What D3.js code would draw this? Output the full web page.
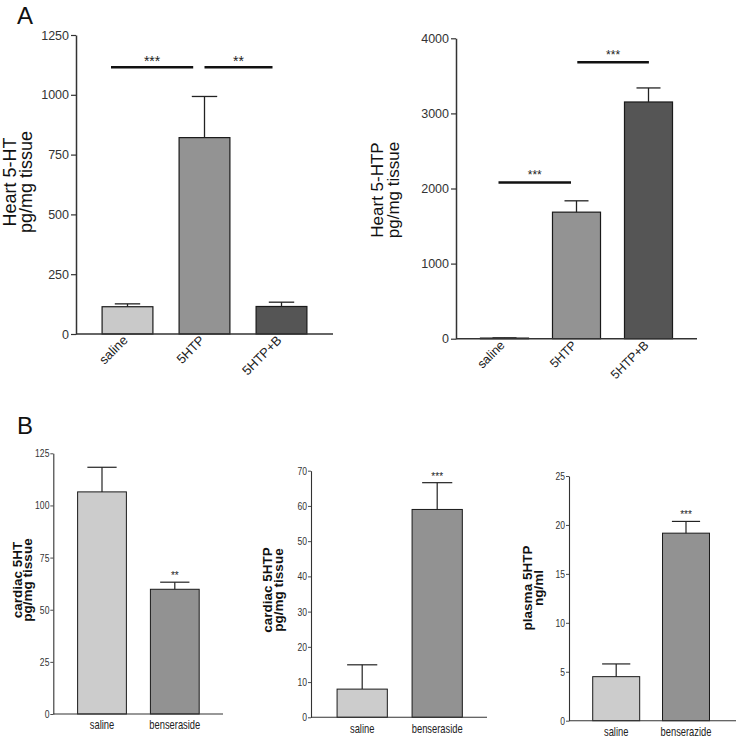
<!DOCTYPE html>
<html><head><meta charset="utf-8">
<script src="https://cdn.jsdelivr.net/npm/d3@7"></script>
<style>
body{margin:0;background:#fff;}
svg{display:block;}
</style></head>
<body>
<svg id="chart" width="736" height="740"></svg>
<script>
// ---------- DATA ----------
const catsA = ["saline", "5HTP", "5HTP+B"];
const heart5HT = [114, 821, 115];
const heart5HTErr = [12, 172, 18];
const ticks5HT = [0, 250, 500, 750, 1000, 1250];
const sig5HT = [{a: 0, b: 1, v: 1115, label: "***"}, {a: 1, b: 2, v: 1115, label: "**"}];

const heart5HTP = [8, 1685, 3152];
const heart5HTPErr = [3, 151, 187];
const ticks5HTP = [0, 1000, 2000, 3000, 4000];
const sig5HTP = [{a: 0, b: 1, v: 2080, label: "***"}, {a: 1, b: 2, v: 3680, label: "***"}];

const catsB1 = ["saline", "benseraside"];
const cardiac5HT = [106.5, 59.8];
const cardiac5HTErr = [11.8, 3.4];
const ticksC5HT = [0, 25, 50, 75, 100, 125];
const starsC5HT = ["", "**"];

const cardiac5HTP = [8.0, 59.0];
const cardiac5HTPErr = [6.9, 7.6];
const ticksC5HTP = [0, 10, 20, 30, 40, 50, 60, 70];
const starsC5HTP = ["", "***"];

const catsB3 = ["saline", "benserazide"];
const plasma5HTP = [4.5, 19.16];
const plasma5HTPErr = [1.3, 1.2];
const ticksP5HTP = [0, 5, 10, 15, 20, 25];
const starsP5HTP = ["", "***"];

// ---------- DRAW ----------
const svg = d3.select("#chart");
const SANS = "'Liberation Sans', Arial, sans-serif";

function panel(o) {
  const g = svg.append("g");
  const y = d3.scaleLinear().domain(o.domain).range(o.yRange);
  const x = d3.scaleBand().domain(o.cats).range(o.xRange)
    .paddingInner(o.padIn).paddingOuter(o.padIn / 2);
  const bw = x.bandwidth();

  // bars
  g.selectAll("rect.bar").data(o.values).join("rect")
    .attr("x", (d, i) => x(o.cats[i]))
    .attr("y", d => y(d))
    .attr("width", bw)
    .attr("height", d => y(0) - y(d))
    .attr("fill", (d, i) => o.colors[i])
    .attr("stroke", "#1a1a1a").attr("stroke-width", o.barStroke);

  // error bars (upper only)
  const capW = bw * o.capFrac;
  o.values.forEach((v, i) => {
    const cx = x(o.cats[i]) + bw / 2;
    const yt = y(v + o.errs[i]);
    g.append("line").attr("x1", cx).attr("x2", cx).attr("y1", y(v)).attr("y2", yt)
      .attr("stroke", "#222").attr("stroke-width", o.errStroke);
    g.append("line").attr("x1", cx - capW / 2).attr("x2", cx + capW / 2).attr("y1", yt).attr("y2", yt)
      .attr("stroke", "#222").attr("stroke-width", o.errStroke);
  });

  // y axis
  const ax = g.append("g").attr("transform", `translate(${o.axisX},0)`)
    .call(d3.axisLeft(y).tickValues(o.ticks).tickFormat(d3.format("d"))
      .tickSize(o.tickLen).tickSizeOuter(0).tickPadding(o.tickPad));
  ax.select(".domain").attr("stroke", "#333").attr("stroke-width", o.axisStroke);
  ax.selectAll(".tick line").attr("stroke", "#333").attr("stroke-width", o.axisStroke * 0.8);
  ax.selectAll(".tick text").attr("fill", "#333").style("font-family", SANS)
    .style("font-size", o.tickSize + "px")
    .attr("transform", o.narrow ? `scale(${o.narrow},1)` : null);

  // x axis line
  g.append("line").attr("x1", o.axisX).attr("x2", o.xEnd).attr("y1", y(0)).attr("y2", y(0))
    .attr("stroke", "#333").attr("stroke-width", o.axisStroke);

  // x labels
  o.cats.forEach((c, i) => {
    const cx = x(c) + bw / 2;
    if (o.rotate) {
      g.append("text").attr("transform", `translate(${cx + o.lblDx},${o.lblY}) rotate(-45)`)
        .attr("text-anchor", "end").attr("fill", "#222")
        .style("font-family", SANS).style("font-size", o.lblSize + "px").text(c);
    } else {
      g.append("text").attr("transform", `translate(${cx},${o.lblY}) scale(${o.narrow},1)`)
        .attr("text-anchor", "middle").attr("fill", "#222")
        .style("font-family", SANS).style("font-size", o.lblSize + "px").text(c);
    }
  });

  // y title (two lines)
  o.title.forEach((t, k) => {
    g.append("text").attr("transform", `translate(${o.titleX[k]},${o.titleY}) rotate(-90)`)
      .attr("text-anchor", "middle").attr("fill", "#111")
      .style("font-family", SANS).style("font-size", o.titleSize + "px")
      .style("font-weight", o.titleWeight).text(t);
  });

  // significance brackets
  if (o.sig) {
    o.sig.forEach((s, k) => {
      const xa = x(o.cats[s.a]) + bw / 2 + o.sigOff[k][0];
      const xb = x(o.cats[s.b]) + bw / 2 + o.sigOff[k][1];
      const yy = y(s.v);
      g.append("line").attr("x1", xa).attr("x2", xb).attr("y1", yy).attr("y2", yy)
        .attr("stroke", "#111").attr("stroke-width", 2.5);
      g.append("text").attr("x", (xa + xb) / 2).attr("y", yy - o.starGap).attr("text-anchor", "middle")
        .attr("fill", "#222").style("font-family", SANS).style("font-size", o.starSize + "px").text(s.label);
    });
  }
  // stars above error bars
  if (o.stars) {
    o.stars.forEach((s, i) => {
      if (!s) return;
      const cx = x(o.cats[i]) + bw / 2;
      g.append("text").attr("x", cx).attr("y", y(o.values[i] + o.errs[i]) - o.starGap)
        .attr("text-anchor", "middle").attr("fill", "#222")
        .style("font-family", SANS).style("font-size", o.starSize + "px").text(s);
    });
  }
}

// Panel A left
panel({
  cats: catsA, values: heart5HT, errs: heart5HTErr, ticks: ticks5HT,
  domain: [0, 1250], yRange: [334, 35], xRange: [89, 320], padIn: 0.34,
  colors: ["#c9c9c9", "#939393", "#555555"], barStroke: 1.2, errStroke: 1.3, capFrac: 0.5,
  axisX: 76, xEnd: 333, axisStroke: 1.5, tickLen: 5, tickPad: 2, tickSize: 12.5,
  rotate: true, lblY: 341, lblDx: 1, lblSize: 13,
  title: ["Heart 5-HT", "pg/mg tissue"], titleX: [16, 32], titleY: 182, titleSize: 18, titleWeight: "normal",
  sig: sig5HT, sigOff: [[-16.5, -11.3], [0, -9]], starGap: 1.5, starSize: 14
});

// Panel A right
panel({
  cats: catsA, values: heart5HTP, errs: heart5HTPErr, ticks: ticks5HTP,
  domain: [0, 4000], yRange: [338.7, 38.3], xRange: [468.5, 684.5], padIn: 0.333,
  colors: ["#c9c9c9", "#939393", "#555555"], barStroke: 1.2, errStroke: 1.3, capFrac: 0.5,
  axisX: 456, xEnd: 697, axisStroke: 1.5, tickLen: 5, tickPad: 2, tickSize: 12.5,
  rotate: true, lblY: 346, lblDx: 1, lblSize: 12.5,
  title: ["Heart 5-HTP", "pg/mg tissue"], titleX: [383, 399], titleY: 190, titleSize: 17, titleWeight: "normal",
  sig: sig5HTP, sigOff: [[-6, -5.5], [0.8, 0.4]], starGap: 3, starSize: 12
});

// Panel B left
panel({
  cats: catsB1, values: cardiac5HT, errs: cardiac5HTErr, ticks: ticksC5HT,
  domain: [0, 125], yRange: [714, 453.3], xRange: [65.6, 211.2], padIn: 0.33,
  colors: ["#cccccc", "#929292"], barStroke: 1, errStroke: 1.2, capFrac: 0.6,
  axisX: 53.3, xEnd: 223, axisStroke: 1.1, tickLen: 3, tickPad: 2, tickSize: 11, narrow: 0.78,
  rotate: false, lblY: 729, lblSize: 12,
  title: ["cardiac 5HT", "pg/mg tissue"], titleX: [21.5, 32], titleY: 580, titleSize: 13.5, titleWeight: "bold",
  stars: starsC5HT, starGap: 3, starSize: 10
});

// Panel B middle
panel({
  cats: catsB1, values: cardiac5HTP, errs: cardiac5HTPErr, ticks: ticksC5HTP,
  domain: [0, 70], yRange: [717.3, 470.7], xRange: [324.7, 474.7], padIn: 0.33,
  colors: ["#cccccc", "#929292"], barStroke: 1, errStroke: 1.2, capFrac: 0.6,
  axisX: 311, xEnd: 487, axisStroke: 1.1, tickLen: 3, tickPad: 2, tickSize: 11, narrow: 0.78,
  rotate: false, lblY: 733, lblSize: 12,
  title: ["cardiac 5HTP", "pg/mg tissue"], titleX: [272, 283], titleY: 590, titleSize: 13.5, titleWeight: "bold",
  stars: starsC5HTP, starGap: 3, starSize: 10
});

// Panel B right
panel({
  cats: catsB3, values: plasma5HTP, errs: plasma5HTPErr, ticks: ticksP5HTP,
  domain: [0, 25], yRange: [720.7, 476], xRange: [581.3, 720.9], padIn: 0.327,
  colors: ["#cccccc", "#929292"], barStroke: 1, errStroke: 1.2, capFrac: 0.6,
  axisX: 569, xEnd: 736, axisStroke: 1.1, tickLen: 3, tickPad: 2, tickSize: 11, narrow: 0.78,
  rotate: false, lblY: 736, lblSize: 12,
  title: ["plasma 5HTP", "ng/ml"], titleX: [532, 543], titleY: 588, titleSize: 13.5, titleWeight: "bold",
  stars: starsP5HTP, starGap: 3, starSize: 10
});

// Panel letters
svg.append("text").attr("x", 17).attr("y", 24).style("font-family", SANS).style("font-size", "24px")
  .attr("fill", "#111").text("A");
svg.append("text").attr("x", 17).attr("y", 434).style("font-family", SANS).style("font-size", "24px")
  .attr("fill", "#111").text("B");
</script>
</body></html>
